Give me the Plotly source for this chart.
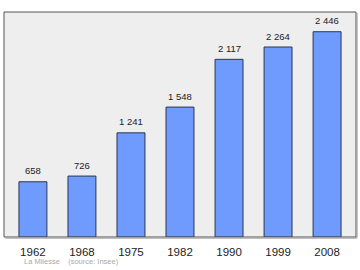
import plotly.graph_objects as go

years = ["1962", "1968", "1975", "1982", "1990", "1999", "2008"]
population = [658, 726, 1241, 1548, 2117, 2264, 2446]
labels = [f"{v:,}".replace(",", " ") for v in population]

FONT = "Liberation Sans"

fig = go.Figure()
fig.add_trace(go.Bar(
    x=years, y=population,
    marker=dict(color="#6f9bff", line=dict(color="#2a3550", width=1)),
    width=0.57,
))
for i, (v, t) in enumerate(zip(population, labels)):
    fig.add_annotation(x=i, y=v, text=t, showarrow=False, yanchor="middle", yshift=11,
                       font=dict(size=9.5, color="#222222", family=FONT))

fig.add_shape(type="rect", xref="paper", yref="paper", x0=0, x1=1, y0=0, y1=1,
              line=dict(color="#555555", width=1))
fig.add_shape(type="line", xref="paper", yref="paper", x0=1.003, x1=1.003, y0=-0.004, y1=0.995,
              line=dict(color="#999999", width=1))
fig.add_shape(type="line", xref="paper", yref="paper", x0=0.004, x1=1.003, y0=-0.005, y1=-0.005,
              line=dict(color="#999999", width=1))

fig.add_annotation(xref="paper", yref="paper", x=0.051, y=-0.111, xanchor="left", yanchor="middle",
                   text="La Milesse&nbsp;&nbsp;&nbsp;&nbsp;(source: Insee)", showarrow=False,
                   font=dict(size=7.5, color="#aaaaaa", family=FONT))

fig.update_layout(
    width=360, height=270, margin=dict(l=4, r=4, t=12, b=33),
    paper_bgcolor="white", plot_bgcolor="#eeeeee", showlegend=False,
    xaxis=dict(type="category", range=[-0.59, 6.59], showgrid=False, zeroline=False, ticks="",
               ticklabelstandoff=6,
               tickfont=dict(size=11.5, color="#222222", family=FONT)),
    yaxis=dict(range=[0, 2681], showgrid=False, zeroline=False, showticklabels=False),
)
fig.write_html("out.html")
